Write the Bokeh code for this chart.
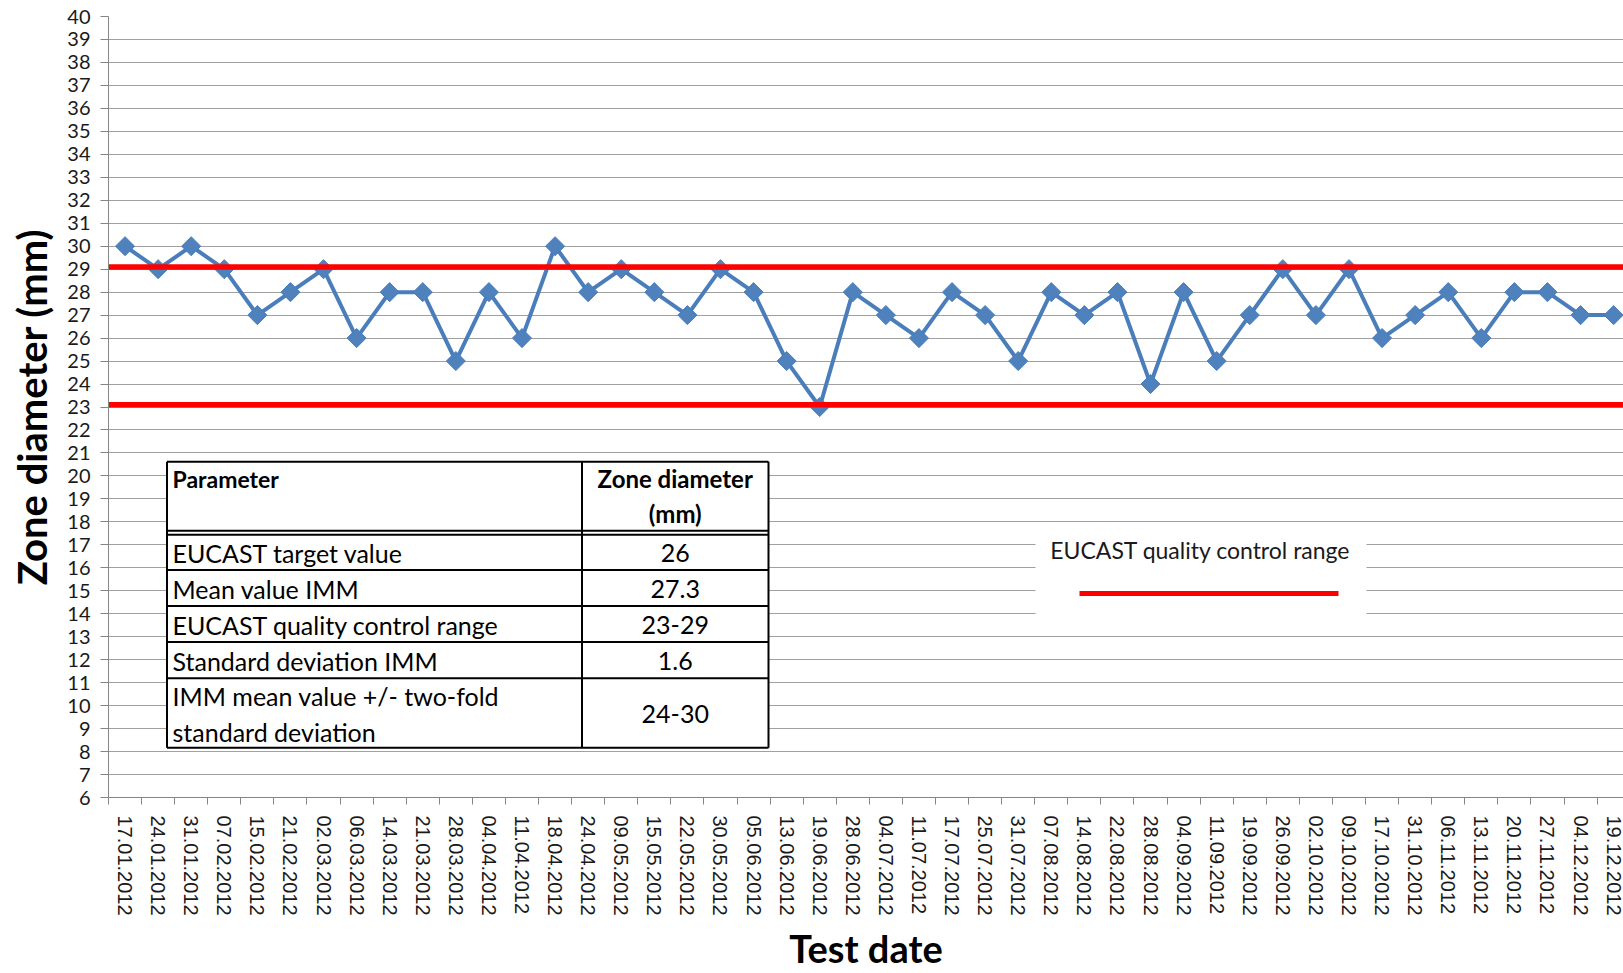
import math
from bokeh.plotting import figure
from bokeh.models import FixedTicker, Range1d
from bokeh.embed import file_html
from bokeh.resources import INLINE
from bokeh.core.properties import value

# ---------------- data ----------------
test_dates = ["17.01.2012", "24.01.2012", "31.01.2012", "07.02.2012", "15.02.2012", "21.02.2012",
              "02.03.2012", "06.03.2012", "14.03.2012", "21.03.2012", "28.03.2012", "04.04.2012",
              "11.04.2012", "18.04.2012", "24.04.2012", "09.05.2012", "15.05.2012", "22.05.2012",
              "30.05.2012", "05.06.2012", "13.06.2012", "19.06.2012", "28.06.2012", "04.07.2012",
              "11.07.2012", "17.07.2012", "25.07.2012", "31.07.2012", "07.08.2012", "14.08.2012",
              "22.08.2012", "28.08.2012", "04.09.2012", "11.09.2012", "19.09.2012", "26.09.2012",
              "02.10.2012", "09.10.2012", "17.10.2012", "31.10.2012", "06.11.2012", "13.11.2012",
              "20.11.2012", "27.11.2012", "04.12.2012", "19.12.2012"]
zone_diameter = [30, 29, 30, 29, 27, 28, 29, 26, 28, 28, 25, 28, 26, 30, 28, 29, 28, 27, 29, 28,
                 25, 23, 28, 27, 26, 28, 27, 25, 28, 27, 28, 24, 28, 25, 27, 29, 27, 29, 26, 27,
                 28, 26, 28, 28, 27, 27]
qc_range_lines = [29.1, 23.1]
y_ticks = list(range(6, 41))

table_header = ["Parameter", "Zone diameter\n(mm)"]
table_params = ["EUCAST target value", "Mean value IMM", "EUCAST quality control range",
                "Standard deviation IMM", "IMM mean value +/- two-fold\nstandard deviation"]
table_values = ["26", "27.3", "23-29", "1.6", "24-30"]
legend_label = "EUCAST quality control range"

# ---------------- geometry helpers (canvas pixels -> data) ----------------
WIDTH, HEIGHT = 1623, 973
LEFT_B, TOP_B = 108, 16
FRAME_BOTTOM = 799.0
X0_PAGE = float(LEFT_B)
Y_MIN, Y_MAX = 6, 40
N = len(test_dates)
CAT_W = 33.08
PX_UNIT = (FRAME_BOTTOM - TOP_B) / (Y_MAX - Y_MIN)

def xd(px):
    return (px - X0_PAGE) / CAT_W - 0.5

def yd(py):
    return Y_MIN + (FRAME_BOTTOM - py) / PX_UNIT

x_end = xd(WIDTH)

FONT = "Lato"
TXT = "#1a1a1a"
p = figure(width=WIDTH, height=HEIGHT, output_backend="svg", toolbar_location=None,
           x_range=Range1d(-0.5, x_end), y_range=Range1d(Y_MIN, Y_MAX),
           min_border_left=LEFT_B, min_border_right=0, min_border_top=TOP_B,
           min_border_bottom=int(HEIGHT - FRAME_BOTTOM))
p.outline_line_color = None
p.background_fill_color = "white"

# axes
idx = list(range(N))
p.xaxis.ticker = FixedTicker(ticks=idx, minor_ticks=[i - 0.5 for i in range(N + 1)])
p.xaxis.major_label_overrides = {i: d for i, d in zip(idx, test_dates)}
p.xaxis.major_label_orientation = "vertical"
p.xaxis.major_tick_line_color = None
p.xaxis.major_tick_out = 0
p.xaxis.major_tick_in = 0
p.xaxis.minor_tick_line_color = "#868686"
p.xaxis.minor_tick_out = 7
p.xaxis.minor_tick_in = 0
p.xaxis.axis_line_color = "#868686"
p.xaxis.major_label_text_font = "Liberation Sans"
p.xaxis.major_label_text_font_size = "20px"
p.xaxis.major_label_text_color = TXT
p.xaxis.major_label_standoff = 11
p.xaxis.axis_label = "Test date"
p.xaxis.axis_label_text_font = FONT
p.xaxis.axis_label_text_font_style = "bold"
p.xaxis.axis_label_text_font_size = "38px"
p.xaxis.axis_label_text_color = "black"
p.xaxis.axis_label_standoff = 6

p.yaxis.ticker = FixedTicker(ticks=y_ticks)
p.yaxis.minor_tick_line_color = None
p.yaxis.major_tick_line_color = "#868686"
p.yaxis.major_tick_out = 8
p.yaxis.major_tick_in = 0
p.yaxis.axis_line_color = "#868686"
p.yaxis.major_label_text_font = FONT
p.yaxis.major_label_text_font_size = "20px"
p.yaxis.major_label_text_color = TXT
p.yaxis.major_label_standoff = 10
p.yaxis.axis_label = "Zone diameter (mm)"
p.yaxis.axis_label_text_font = FONT
p.yaxis.axis_label_text_font_style = "bold"
p.yaxis.axis_label_text_font_size = "40px"
p.yaxis.axis_label_text_color = "black"
p.yaxis.axis_label_standoff = 8

p.xgrid.grid_line_color = None
p.ygrid.ticker = FixedTicker(ticks=y_ticks)
p.ygrid.grid_line_color = "#a0a0a0"
p.ygrid.grid_line_width = 1

# data series
BLUE = "#4a7ebb"
p.line(idx, zone_diameter, line_color=BLUE, line_width=4)
p.scatter(idx, zone_diameter, marker="square", angle=math.pi / 4, size=13.5,
          fill_color="#4f81bd", line_color=BLUE, line_width=1)

# QC range lines
for yv in qc_range_lines:
    p.segment(x0=-0.5, y0=yv, x1=N + 1, y1=yv, line_color="#ff0000", line_width=5.5)

# ---------------- table ----------------
T_L, T_R, T_D = 166.5, 768.0, 581.5
T_TOP, H_B1, H_B2 = 462.5, 531.5, 535.5
row_lines = [571.0, 607.0, 643.0, 679.5, 749.0]
p.quad(left=xd(T_L), right=xd(T_R), top=yd(T_TOP), bottom=yd(row_lines[-1]),
       fill_color="white", line_color=None)
hlines = [T_TOP, H_B1, H_B2] + row_lines
p.segment(x0=[xd(T_L)] * len(hlines), x1=[xd(T_R)] * len(hlines),
          y0=[yd(h) for h in hlines], y1=[yd(h) for h in hlines],
          line_color="black", line_width=2)
p.segment(x0=[xd(T_L), xd(T_D), xd(T_R)], x1=[xd(T_L), xd(T_D), xd(T_R)],
          y0=[yd(T_TOP)] * 3, y1=[yd(row_lines[-1])] * 3, line_color="black", line_width=2)

col2_center = (T_D + T_R) / 2
p.text(x=[xd(172)], y=[yd(480)], text=[table_header[0]], text_font=value(FONT),
       text_font_style="bold", text_font_size="23px", text_align="left", text_baseline="middle",
       text_color="black")
p.text(x=[xd(col2_center)], y=[yd(497)], text=[table_header[1]], text_font=value(FONT),
       text_font_style="bold", text_font_size="24px", text_align="center", text_baseline="middle",
       text_color="black", text_line_height=1.2)
row_bounds = [H_B2] + row_lines
row_centers = [(row_bounds[i] + row_bounds[i + 1]) / 2 + 1 for i in range(len(table_params))]
p.text(x=[xd(172)] * len(table_params), y=[yd(c) for c in row_centers], text=table_params,
       text_font=value(FONT), text_font_size="25px", text_align="left", text_baseline="middle",
       text_color="black", text_line_height=1.2)
p.text(x=[xd(col2_center)] * len(table_values), y=[yd(c) for c in row_centers], text=table_values,
       text_font=value(FONT), text_font_size="25px", text_align="center", text_baseline="middle",
       text_color="black")

# ---------------- legend ----------------
p.quad(left=xd(1035), right=xd(1366), top=yd(529), bottom=yd(627),
       fill_color="white", line_color=None)
p.text(x=[xd(1200)], y=[yd(551)], text=[legend_label], text_font=value(FONT),
       text_font_size="23px", text_align="center", text_baseline="middle", text_color=TXT)
p.segment(x0=xd(1079), x1=xd(1338), y0=yd(594.5), y1=yd(594.5), line_color="#ff0000", line_width=5)

open("out.html", "w").write(file_html(p, INLINE))
